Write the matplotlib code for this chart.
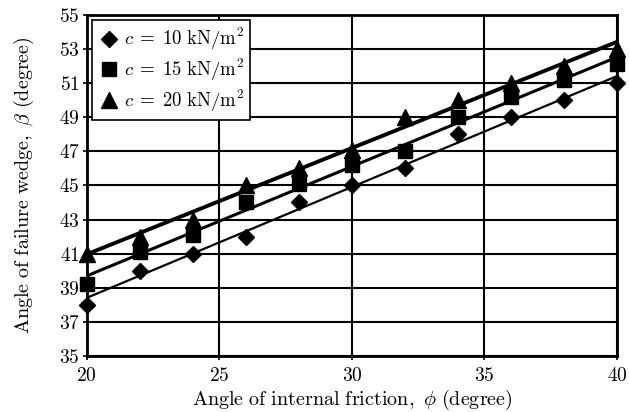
import numpy as np
import matplotlib
matplotlib.use("Agg")
import matplotlib.pyplot as plt

plt.rcParams['mathtext.fontset'] = 'cm'
plt.rcParams['font.family'] = ['DejaVu Serif']

# angle of internal friction (degree)
phi = [20, 22, 24, 26, 28, 30, 32, 34, 36, 38, 40]
# angle of failure wedge (degree) for each cohesion
beta_c10 = [38.0, 40.0, 41.0, 42.0, 44.0, 45.0, 46.0, 48.0, 49.0, 50.0, 51.0]
beta_c15 = [39.2, 41.1, 42.1, 44.0, 45.1, 46.2, 47.0, 49.0, 50.2, 51.2, 52.1]
beta_c20 = [41.0, 42.0, 43.0, 45.0, 46.0, 47.1, 49.0, 50.0, 51.0, 52.0, 53.0]

x_ticks = [20, 25, 30, 35, 40]
y_ticks = list(range(35, 56, 2))

fig = plt.figure(figsize=(6.29, 4.12), dpi=100)
ax = fig.add_axes([0.138, 0.136, 0.843, 0.828])

series = [
    (beta_c10, 'D', 8, 1.6, r'$c\;=\;10\ \mathrm{kN/m^2}$'),
    (beta_c15, 's', 10, 2.2, r'$c\;=\;15\ \mathrm{kN/m^2}$'),
    (beta_c20, '^', 11, 2.8, r'$c\;=\;20\ \mathrm{kN/m^2}$'),
]

x = np.array(phi)
for vals, marker, ms, lw, label in series:
    ax.plot(phi, vals, linestyle='none', marker=marker, markersize=ms,
            color='black', label=label, zorder=4, clip_on=False)
    # linear trend line
    k, b = np.polyfit(x, vals, 1)
    ax.plot([20, 40], [k * 20 + b, k * 40 + b], color='black', linewidth=lw, zorder=3)

ax.set_xlim(20, 40)
ax.set_ylim(35, 55)
ax.set_xticks(x_ticks)
ax.set_yticks(y_ticks)
ax.set_xticklabels(['$%d$' % v for v in x_ticks], fontsize=14)
ax.set_yticklabels(['$%d$' % v for v in y_ticks], fontsize=14)
ax.grid(True, color='black', linewidth=1.5)
ax.set_axisbelow(True)
for sp in ax.spines.values():
    sp.set_linewidth(2)
ax.tick_params(direction='out', length=3, width=1.2)
ax.tick_params(axis='x', pad=5)
ax.tick_params(axis='y', pad=2)

ax.set_xlabel(r'$\mathrm{Angle\ of\ internal\ friction,}\ \phi\ \mathrm{(degree)}$', fontsize=14.5, labelpad=2)
ax.set_ylabel(r'$\mathrm{Angle\ of\ failure\ wedge,}\ \beta\ \mathrm{(degree)}$', fontsize=14.5, labelpad=16)

leg = ax.legend(loc='upper left', fontsize=13.5, frameon=True, fancybox=False,
                edgecolor='black', framealpha=1, handletextpad=0.2,
                borderpad=0.3, labelspacing=0.25, handlelength=1.2,
                borderaxespad=0.3)
leg.get_frame().set_linewidth(1.2)

fig.savefig('out.png', dpi=100)
